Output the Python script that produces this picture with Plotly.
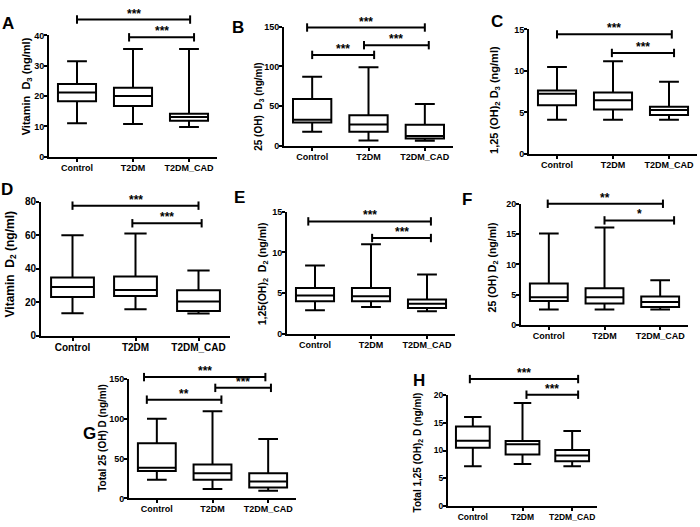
import plotly.graph_objects as go

W, H = 700, 527
categories = ["Control", "T2DM", "T2DM_CAD"]
cat_pos = [0, 1, 2]

# ---- box statistics (Control, T2DM, T2DM_CAD) ----
A_min = [11.0, 10.8, 9.8]
A_q1 = [18.3, 16.7, 11.9]
A_med = [21.2, 20.0, 13.1]
A_q3 = [24.0, 22.7, 14.2]
A_max = [31.5, 35.5, 35.5]

B_min = [18.0, 7.0, 6.5]
B_q1 = [29.5, 18.0, 9.5]
B_med = [33.0, 27.0, 12.5]
B_q3 = [59.0, 38.5, 26.7]
B_max = [87.0, 99.0, 52.8]

C_min = [4.1, 4.1, 4.1]
C_q1 = [5.87, 5.35, 4.69]
C_med = [7.24, 6.46, 5.28]
C_q3 = [7.64, 7.4, 5.67]
C_max = [10.47, 11.18, 8.7]

D_min = [13.6, 15.9, 13.4]
D_q1 = [23.2, 23.8, 14.8]
D_med = [29.2, 27.4, 20.6]
D_q3 = [34.8, 35.4, 27.3]
D_max = [60.0, 61.1, 39.1]

E_min = [2.92, 3.32, 2.8]
E_q1 = [4.0, 4.0, 3.2]
E_med = [4.72, 4.64, 3.72]
E_q3 = [5.64, 5.64, 4.24]
E_max = [8.4, 11.0, 7.28]

F_min = [2.58, 2.58, 2.58]
F_q1 = [3.98, 3.55, 3.0]
F_med = [4.62, 4.62, 3.82]
F_q3 = [6.88, 6.08, 4.73]
F_max = [15.1, 16.1, 7.42]

G_min = [23.4, 11.9, 9.8]
G_q1 = [34.4, 23.4, 13.9]
G_med = [38.5, 31.6, 21.3]
G_q3 = [69.3, 42.6, 31.6]
G_max = [100.0, 109.4, 74.6]

H_min = [7.2, 7.6, 7.2]
H_q1 = [10.5, 9.3, 8.07]
H_med = [11.75, 11.1, 9.1]
H_q3 = [14.3, 11.7, 10.1]
H_max = [16.0, 18.5, 13.5]

# ---- significance bars: (from, to, level, label) ----
A_sig = [(0.0, 2.02, 45.2, "***"), (0.93, 2.09, 39.35, "***")]
B_sig = [(-0.09, 2.0, 148.8, "***"), (0.0, 1.1, 114.4, "***"), (0.92, 2.07, 126.6, "***")]
C_sig = [(0.0, 2.05, 14.41, "***"), (0.98, 2.09, 12.17, "***")]
D_sig = [(0.0, 2.0, 77.7, "***"), (0.95, 2.05, 67.2, "***")]
E_sig = [(-0.12, 2.07, 13.8, "***"), (1.02, 2.07, 11.76, "***")]
F_sig = [(-0.02, 2.05, 20.0, "**"), (1.0, 2.25, 17.26, "*")]
G_sig = [(-0.23, 1.95, 152.4, "***"), (-0.18, 1.16, 124.1, "**"), (1.05, 2.05, 138.9, "***")]
H_sig = [(-0.06, 2.12, 22.8, "***"), (1.08, 2.12, 20.0, "***")]

y_titles = {
    "A": "Vitamin  D<sub>3</sub> (ng/ml)",
    "B": "25 (OH)  D<sub>3</sub> (ng/ml)",
    "C": "1,25 (OH)<sub>2</sub> D<sub>3</sub> (ng/ml)",
    "D": "Vitamin  D<sub>2</sub> (ng/ml)",
    "E": "1,25(OH)<sub>2</sub>  D<sub>2</sub> (ng/ml)",
    "F": "25 (OH) D<sub>2</sub> (ng/ml)",
    "G": "Total 25 (OH) D (ng/ml)",
    "H": "Total 1,25 (OH)<sub>2</sub> D (ng/ml)",
}
y_max = {"A": 40, "B": 150, "C": 15, "D": 80, "E": 15, "F": 20, "G": 150, "H": 20}
y_dtick = {"A": 10, "B": 50, "C": 5, "D": 20, "E": 5, "F": 5, "G": 50, "H": 5}

stats = {
    "A": (A_min, A_q1, A_med, A_q3, A_max, A_sig),
    "B": (B_min, B_q1, B_med, B_q3, B_max, B_sig),
    "C": (C_min, C_q1, C_med, C_q3, C_max, C_sig),
    "D": (D_min, D_q1, D_med, D_q3, D_max, D_sig),
    "E": (E_min, E_q1, E_med, E_q3, E_max, E_sig),
    "F": (F_min, F_q1, F_med, F_q3, F_max, F_sig),
    "G": (G_min, G_q1, G_med, G_q3, G_max, G_sig),
    "H": (H_min, H_q1, H_med, H_q3, H_max, H_sig),
}

# ---- layout geometry in pixels ----
# px: x-axis span, py: (top tick, zero) y span, lab: panel letter centre,
# ttl: y-title centre, tsz: y-title font size, fs: tick font size
geom = {
    "A": dict(px=(49, 217), py=(31, 155), lab=(8, 19), ttl=(27, 83), tsz=11, fs=9),
    "B": dict(px=(284, 453), py=(22, 144), lab=(238, 23), ttl=(259, 104), tsz=10, fs=9),
    "C": dict(px=(529, 697), py=(25, 152), lab=(497, 17), ttl=(495, 97), tsz=11, fs=9),
    "D": dict(px=(41, 230), py=(201, 338), lab=(7, 188), ttl=(11, 265), tsz=12, fs=10),
    "E": dict(px=(287, 455), py=(211, 336), lab=(239, 197), ttl=(263, 275), tsz=10.5, fs=9),
    "F": dict(px=(521, 688), py=(203, 327), lab=(467, 199), ttl=(493, 268), tsz=10.5, fs=9),
    "G": dict(px=(129, 296), py=(382, 504), lab=(89, 438), ttl=(103, 442), tsz=10, fs=9),
    "H": dict(px=(448, 597), py=(398, 512), lab=(419, 383), ttl=(418, 457), tsz=10, fs=8.5),
}

FAM = "Liberation Sans, Arial, sans-serif"

fig = go.Figure()
layout = dict(
    width=W, height=H, autosize=False,
    margin=dict(l=0, r=0, t=0, b=0, pad=0),
    paper_bgcolor="white", plot_bgcolor="rgba(0,0,0,0)",
    showlegend=False, font=dict(family=FAM, color="black"),
)
annotations = []

for k, name in enumerate(geom, start=1):
    g = geom[name]
    mn, q1, med, q3, mx, sig = stats[name]
    xs = "" if k == 1 else str(k)
    x0p, x1p = g["px"]
    yt, yb = g["py"]
    R = y_max[name]
    tickfont = dict(family=FAM, size=g["fs"], color="black", weight="bold")

    fig.add_trace(go.Box(
        x=cat_pos, q1=q1, median=med, q3=q3, lowerfence=mn, upperfence=mx,
        width=0.68, whiskerwidth=0.52, boxpoints=False,
        line=dict(color="black", width=2), fillcolor="white",
        xaxis="x" + xs, yaxis="y" + xs, hoverinfo="skip",
    ))

    sy = "y" + str(k + 8)
    for (a, b, lvl, lab) in sig:
        fig.add_trace(go.Scatter(
            x=[a, b], y=[lvl, lvl], mode="lines+markers",
            line=dict(color="black", width=2),
            marker=dict(symbol="line-ns-open", size=6, color="black",
                        line=dict(color="black", width=2)),
            xaxis="x" + xs, yaxis=sy, cliponaxis=False, hoverinfo="skip",
        ))
        annotations.append(dict(
            text="<b>%s</b>" % lab, x=(a + b) / 2, y=lvl,
            xref="x" + xs, yref=sy, showarrow=False,
            xanchor="center", yanchor="middle", yshift=6,
            font=dict(family=FAM, size=12, color="black"),
        ))

    layout["xaxis" + xs] = dict(
        domain=[x0p / W, x1p / W], range=[-0.5, 2.5], anchor="y" + xs,
        tickmode="array", tickvals=cat_pos, ticktext=categories,
        showline=True, linecolor="black", linewidth=2,
        ticks="outside", ticklen=3, tickwidth=2, tickcolor="black",
        ticklabelstandoff=-2,
        showgrid=False, zeroline=False, tickfont=tickfont, fixedrange=True,
    )
    layout["yaxis" + xs] = dict(
        domain=[1 - yb / H, 1 - yt / H], range=[0, R], anchor="x" + xs,
        tickmode="linear", tick0=0, dtick=y_dtick[name],
        showline=True, linecolor="black", linewidth=2,
        ticks="outside", ticklen=3, tickwidth=2, tickcolor="black",
        ticklabelstandoff=-2,
        showgrid=False, zeroline=False, tickfont=tickfont, fixedrange=True,
    )
    ext_top = max(0, yt - 42)
    layout["yaxis" + str(k + 8)] = dict(
        domain=[1 - yb / H, 1 - ext_top / H],
        range=[0, R * (yb - ext_top) / (yb - yt)],
        anchor="x" + xs, visible=False, fixedrange=True,
    )
    lx, ly = g["lab"]
    annotations.append(dict(
        text="<b>%s</b>" % name, x=lx / W, y=1 - ly / H, xref="paper", yref="paper",
        showarrow=False, xanchor="center", yanchor="middle",
        font=dict(family=FAM, size=17, color="black"),
    ))
    tx, ty = g["ttl"]
    annotations.append(dict(
        text="<b>%s</b>" % y_titles[name], x=tx / W, y=1 - ty / H,
        xref="paper", yref="paper", showarrow=False, textangle=-90,
        xanchor="center", yanchor="middle",
        font=dict(family=FAM, size=g["tsz"], color="black"),
    ))

layout["annotations"] = annotations
fig.update_layout(**layout)
fig.write_html("out.html", config={"displayModeBar": False},
               post_script="document.body.style.margin='0px';")
